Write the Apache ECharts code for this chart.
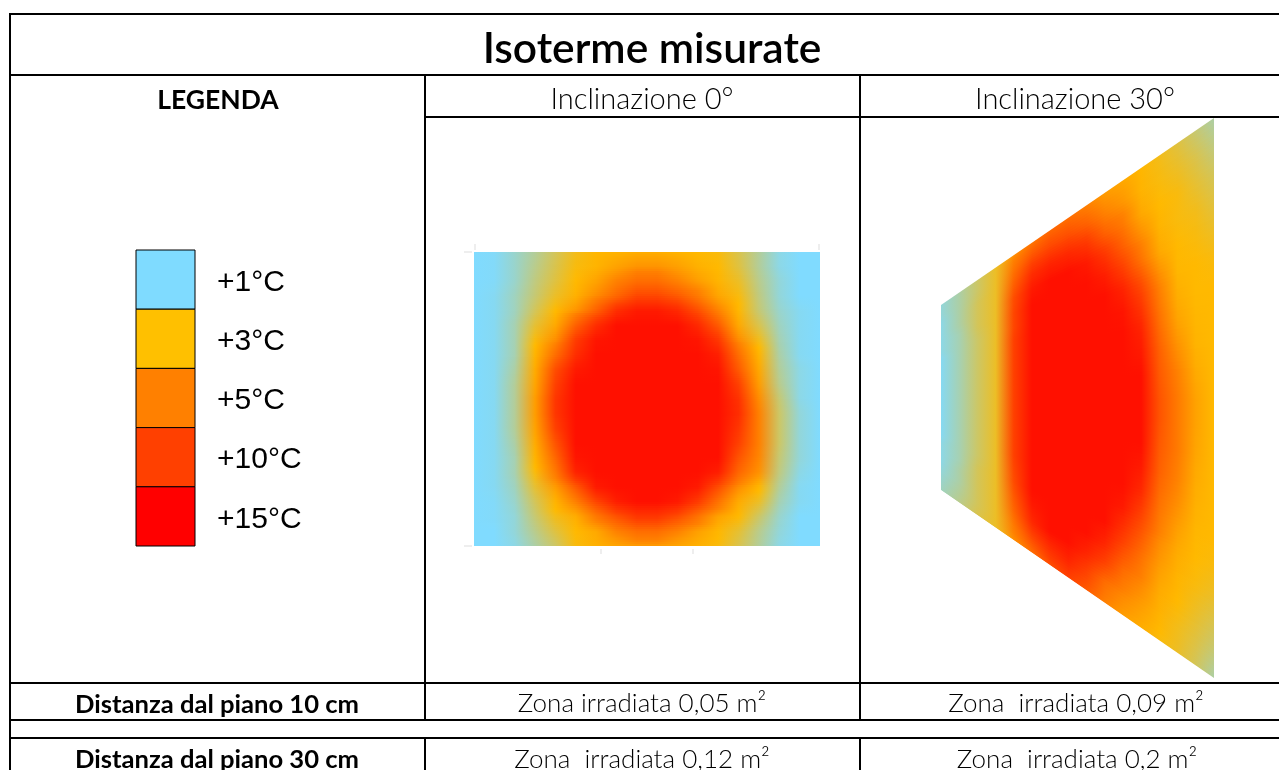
<!DOCTYPE html>
<html><head><meta charset="utf-8">
<style>html,body{margin:0;padding:0;background:#fff}#c{width:1279px;height:770px}</style>
<script src="https://cdn.jsdelivr.net/npm/echarts@6/dist/echarts.min.js"></script></head>
<body><div id="c"></div>
<script>
const legendLabels = ['+1°C','+3°C','+5°C','+10°C','+15°C'];
const legendColors = ['#7FDBFF','#FFC000','#FF8000','#FF4000','#FF0000'];
const scaleTemps = [1,3,5,10,15];
const scaleColors = [[128,219,255],[255,185,0],[255,128,0],[255,64,0],[255,16,0]];

const isoterme0 = [
[1,1.05,1.4,1.8,2.3,2.8,3.1,3.2,3.4,3.4,3.2,3,2.9,2.4,1.8,1.2,1,1],
[1,1.05,1.4,1.9,2.4,2.9,3.2,3.8,4.3,4.3,3.9,3.3,3,2.5,1.8,1.2,1,1],
[1,1.05,1.4,2,2.5,3,3.8,5,6.5,6.5,5,4,3.2,2.7,1.9,1.3,1,1],
[1,1.1,1.5,2.1,2.7,3.3,4.6,7,9.5,9.5,8,5.5,3.7,2.9,2,1.3,1,1],
[1,1.1,1.5,2.3,3,4.3,7.5,12,14,14,12.5,9,5,3.1,2.1,1.4,1.1,1],
[1,1.1,1.6,2.6,3.6,7.5,12,15,15,15,15,12.5,8,3.6,2.4,1.5,1.1,1],
[1,1.1,1.6,2.9,4.5,10.5,14.5,15,15,15,15,14.5,11,4.6,2.8,1.6,1.1,1],
[1,1.1,1.6,3.2,6.5,12,15,15,15,15,15,15,13.5,6.5,3.2,1.7,1.1,1],
[1,1.1,1.7,3.5,9,14,15,15,15,15,15,15,14.5,8,3.6,1.8,1.2,1],
[1,1.1,1.8,3.7,10,15,15,15,15,15,15,15,15,10,4,1.9,1.2,1],
[1,1.1,1.8,4,11,15,15,15,15,15,15,15,15,11.5,4.6,2.1,1.2,1],
[1,1.1,1.8,4,11,15,15,15,15,15,15,15,15,12,5,2.2,1.3,1],
[1,1.1,1.8,3.8,10,15,15,15,15,15,15,15,15,11,5,2.2,1.3,1],
[1,1.1,1.7,3.5,8.5,15,15,15,15,15,15,15,15,10,5,2.2,1.3,1],
[1,1.1,1.6,3.2,7,14.5,15,15,15,15,15,15,15,8.5,4.8,2.1,1.3,1],
[1,1.1,1.6,2.9,5.5,13,15,15,15,15,15,15,13.5,7,4.4,2,1.2,1],
[1,1.1,1.5,2.6,4,8,14,15,15,15,15,14,9,4.5,3.1,1.8,1.1,1],
[1,1.05,1.4,2.3,3.2,5,9.5,13.5,15,15,14,10.5,6,3.5,2.7,1.6,1.1,1],
[1,1.05,1.3,2.1,2.8,3.4,5.5,8.5,11,11,9,6,3.8,3,2.2,1.4,1,1],
[1,1,1.3,1.9,2.5,3,3.6,5,6.5,6.5,5,3.9,3.1,2.6,1.9,1.3,1,1],
[1,1,1.2,1.7,2.2,2.9,3.3,3.7,4,4,3.7,3.3,2.9,2.4,1.8,1.2,1,1]
];
const isoterme30 = [
[1.3,1.7,2.2,2.7,4.5,6,7,6.5,5,4,3.6,3.1,2.8,2.5,2.1,1.7],
[1.3,1.7,2.2,2.7,6,9,9.5,9,7.5,5,4.2,3.2,2.9,2.7,2.4,2],
[1.2,1.7,2.3,2.7,7.5,12,13,12.5,11,7.5,5.5,3.6,3,2.9,2.6,2.3],
[1.2,1.7,2.3,2.7,9,14,15,15,14,11,7.5,4.6,3.2,2.9,2.8,2.5],
[1.2,1.6,2.3,2.7,9.5,15,15,15,15,13.5,10,6,3.6,3,2.9,2.7],
[1.2,1.6,2.2,2.7,9.5,15,15,15,15,15,13,9,4.6,3.1,3,2.9],
[1.1,1.6,2.2,2.7,10,15,15,15,15,15,14.5,11,5.5,3.4,3,3],
[1.1,1.6,2.2,2.7,10,15,15,15,15,15,15,13,6.5,3.8,3.1,3],
[1.1,1.6,2.2,2.7,10,15,15,15,15,15,15,14,7.5,4.4,3.2,3],
[1.1,1.6,2.2,2.7,10,15,15,15,15,15,15,15,8,5,3.5,3],
[1.1,1.6,2.2,2.7,10,15,15,15,15,15,15,15,8.5,5.5,3.8,3],
[1.1,1.6,2.2,2.7,10,15,15,15,15,15,15,15,8.5,5.5,3.8,3],
[1.1,1.6,2.2,2.7,10,15,15,15,15,15,15,15,8,5.5,3.7,3],
[1.1,1.6,2.2,2.7,10,15,15,15,15,15,15,14,7.5,5,3.5,3],
[1.1,1.6,2.2,2.7,10,15,15,15,15,15,15,12.5,6.5,4.6,3.3,3],
[1.2,1.6,2.2,2.7,9.5,15,15,15,15,15,14,10,5.5,4,3.1,3],
[1.2,1.6,2.3,2.7,9,15,15,15,15,15,11.5,8,4.6,3.5,3,2.9],
[1.2,1.7,2.3,2.7,8,14,15,15,15,13,9,6,4,3.2,2.9,2.7],
[1.3,1.7,2.3,2.7,7,12.5,15,15,13,10,6.5,4.8,3.5,3,2.7,2.4],
[1.4,1.8,2.3,2.7,5.5,9.5,12,13,10,6.5,4.8,4,3.2,2.8,2.5,2.1],
[1.5,1.9,2.4,2.7,4.5,6.5,9,10,8,5,4,3.4,2.9,2.7,2.3,1.7]
];
const legendTitle = 'LEGENDA';
const mainTitle = 'Isoterme misurate';
const colHeads = ['Inclinazione 0°','Inclinazione 30°'];
const rowLabels = ['Distanza dal piano 10 cm','Distanza dal piano 30 cm'];
const zone10 = ['Zona irradiata 0,05 m²','Zona  irradiata 0,09 m²'];
const zone30 = ['Zona  irradiata 0,12 m²','Zona  irradiata 0,2 m²'];
// left side of the tilted field, as share of the right side's height
const tiltTop = 0.334, tiltBottom = 0.664;
// smooth shading: each gap between two read rows is painted in this many thin bands
const shadeSteps = 7;

function colorOf(v){
  let i = 0;
  while(i < scaleTemps.length-2 && v > scaleTemps[i+1]) i++;
  const t = Math.max(0, Math.min(1,(v-scaleTemps[i])/(scaleTemps[i+1]-scaleTemps[i])));
  const a = scaleColors[i], b = scaleColors[i+1];
  return 'rgb('+[0,1,2].map(k=>Math.round(a[k]+(b[k]-a[k])*t)).join(',')+')';
}
function shade(rowA,rowB,t){
  return {type:'linear',x:0,y:0,x2:1,y2:0,global:false,
    colorStops:rowA.map((v,i)=>({offset:i/(rowA.length-1),color:colorOf(v+(rowB[i]-v)*t)}))};
}
const hiddenAxis = (idx,max,extra)=>Object.assign({type:'value',gridIndex:idx,min:0,max:max,show:false},extra||{});

const FONT = 'Lato';
const txt = (s,x,y,size,weight)=>({type:'text',silent:true,x:x,y:y,style:{text:s,fill:'#000',
  font:(weight||300)+' '+size+'px '+FONT,align:'center',verticalAlign:'middle'}});
const hl = (x1,x2,y)=>({type:'line',silent:true,shape:{x1,y1:y,x2,y2:y},style:{stroke:'#000',lineWidth:2}});
const vl = (x,y1,y2)=>({type:'line',silent:true,shape:{x1:x,y1,x2:x,y2},style:{stroke:'#000',lineWidth:2}});
const tick = (x1,y1,x2,y2)=>({type:'line',silent:true,shape:{x1,y1,x2,y2},style:{stroke:'#ddd',lineWidth:1}});

const chart = echarts.init(document.getElementById('c'),null,{renderer:'canvas'});
chart.setOption({
  animation:false,
  backgroundColor:'#fff',
  grid:[
    {left:474,top:252,width:346,height:294},
    {left:941,top:118,width:273,height:560},
    {left:136,top:250,width:59,height:296}
  ],
  xAxis:[hiddenAxis(0,1),hiddenAxis(1,1),hiddenAxis(2,1)],
  yAxis:[
    hiddenAxis(0,isoterme0.length-1,{inverse:true}),
    hiddenAxis(1,1,{inverse:true}),
    {type:'category',gridIndex:2,inverse:true,position:'right',data:legendLabels,
      axisLine:{show:false},axisTick:{show:false},splitLine:{show:false},
      axisLabel:{margin:22,align:'left',formatter:'{a|{value}}',
        rich:{a:{color:'#000',fontSize:30,fontFamily:'Liberation Sans',padding:[6,0,0,0]}}}}
  ],
  series:[
    {type:'custom',xAxisIndex:0,yAxisIndex:0,clip:false,
      data:isoterme0.slice(1).map((r,i)=>[i]),
      renderItem:(p,api)=>{
        const i = api.value(0), children = [];
        const last = api.coord([0,isoterme0.length-1])[1];
        for(let s=0;s<shadeSteps;s++){
          const a = api.coord([0,i+s/shadeSteps]), b = api.coord([1,i+(s+1)/shadeSteps]);
          children.push({type:'rect',shape:{x:a[0],y:a[1],width:b[0]-a[0],height:Math.min(b[1]-a[1]+1.5,last-a[1])},
            style:{fill:shade(isoterme0[i],isoterme0[i+1],(s+0.5)/shadeSteps)}});
        }
        return {type:'group',children};
      }},
    {type:'custom',xAxisIndex:1,yAxisIndex:1,clip:false,
      data:isoterme30.slice(1).map((r,i)=>[i]),
      renderItem:(p,api)=>{
        const i = api.value(0), n = isoterme30.length-1, children = [];
        const pt = (u,v)=>{
          const top = tiltTop*(1-u), bot = 1-(1-tiltBottom)*(1-u);
          return api.coord([u, top+(bot-top)*v]);
        };
        for(let s=0;s<shadeSteps;s++){
          const v0 = (i+s/shadeSteps)/n, v1 = Math.min(1,(i+(s+1)/shadeSteps)/n+0.006);
          children.push({type:'polygon',shape:{points:[pt(0,v0),pt(1,v0),pt(1,v1),pt(0,v1)]},
            style:{fill:shade(isoterme30[i],isoterme30[i+1],(s+0.5)/shadeSteps)}});
        }
        return {type:'group',children};
      }},
    {type:'custom',xAxisIndex:2,yAxisIndex:2,clip:false,
      data:legendLabels.map((l,i)=>[i]),
      renderItem:(p,api)=>{
        const i = api.value(0), c = api.coord([0,i]), s = api.size([1,1]);
        return {type:'rect',shape:{x:c[0],y:c[1]-s[1]/2,width:s[0],height:s[1]},
          style:{fill:legendColors[i],stroke:'#000',lineWidth:1}};
      }}
  ],
  graphic:{elements:[
    hl(9,1279,14),vl(10,14,770),hl(10,1279,75),
    vl(425,75,720),vl(860,75,720),vl(425,738,770),vl(860,738,770),
    hl(425,1279,117),hl(10,1279,683),hl(10,1279,720),hl(10,1279,738),
    tick(475,244,475,250),tick(819,244,819,250),tick(464,252,472,252),tick(464,546,472,546),
    tick(601,549,601,554),tick(693,549,693,554),
    txt(mainTitle,652,49,42.5,600),
    txt(legendTitle,218,100,26.5,700),
    txt(colHeads[0],642,100,29),txt(colHeads[1],1075,100,29),
    txt(rowLabels[0],217,705,25.6,700),txt(rowLabels[1],217,760,25.6,700),
    txt(zone10[0],642,704,26),txt(zone10[1],1076,704,26),
    txt(zone30[0],642,760,26),txt(zone30[1],1077,760,26)
  ]}
});
</script></body></html>
